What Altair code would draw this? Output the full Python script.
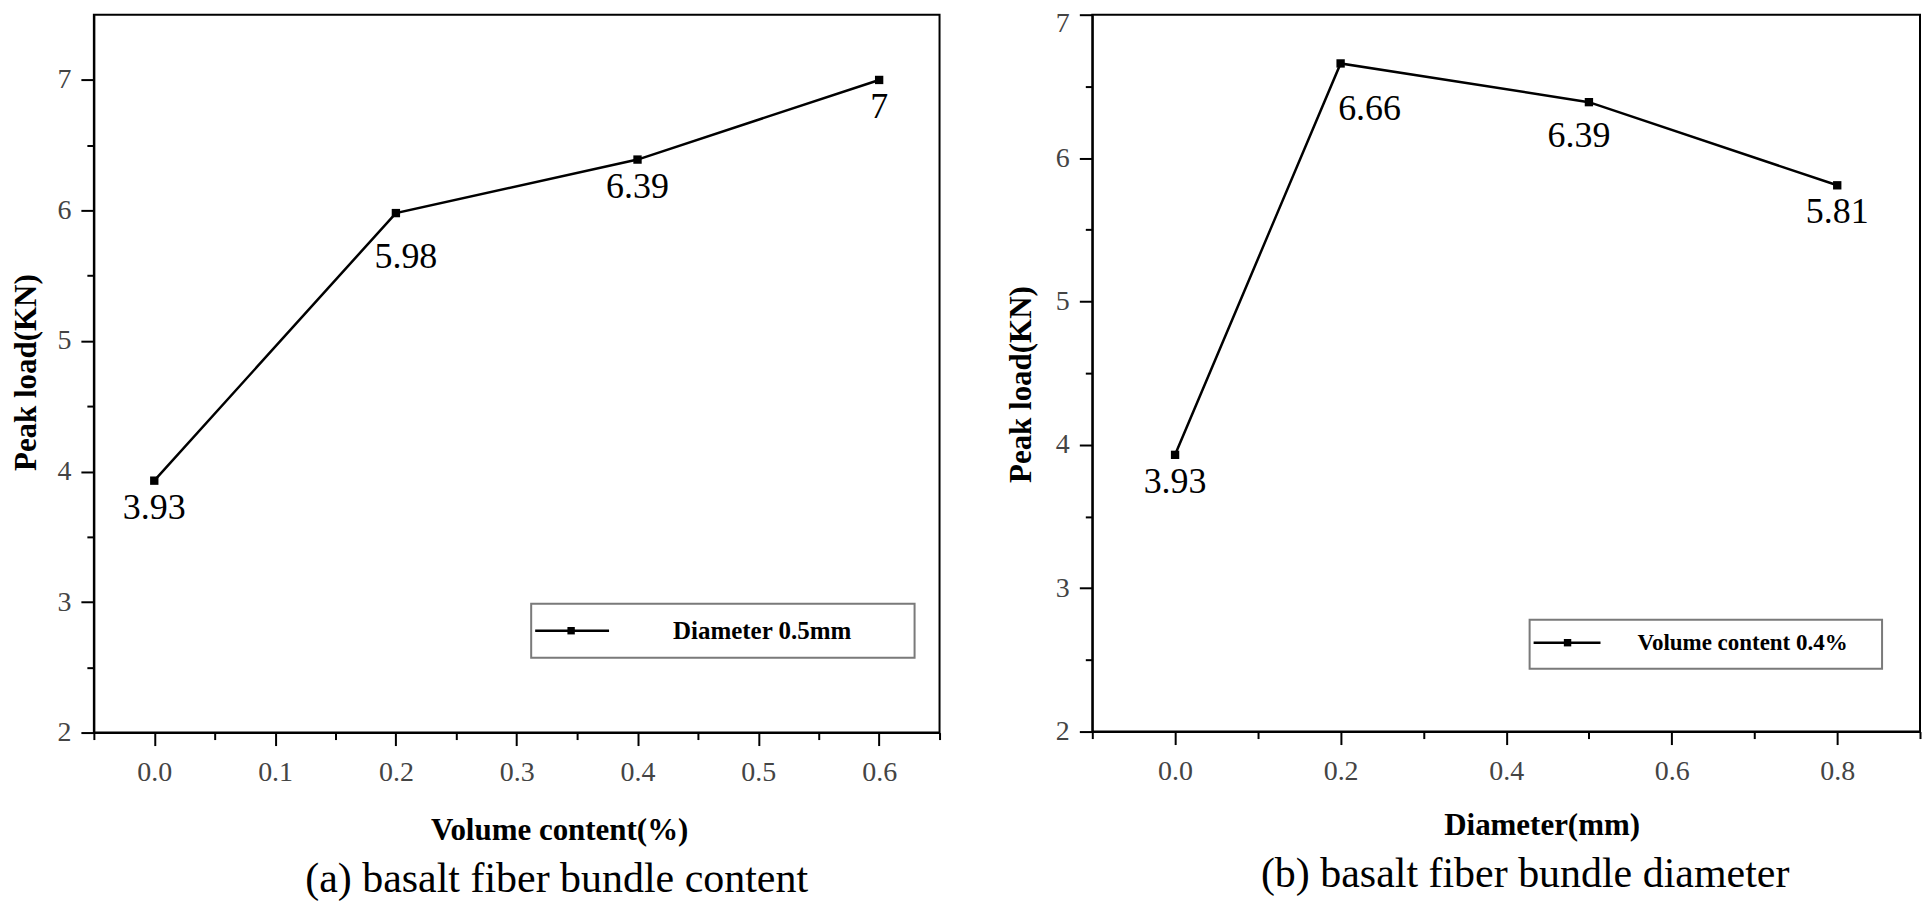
import altair as alt
import pandas as pd

# ---- data ----
x_a = [0.0, 0.2, 0.4, 0.6]
y_a = [3.93, 5.98, 6.39, 7.0]
lab_a = ["3.93", "5.98", "6.39", "7"]

x_b = [0.0, 0.2, 0.5, 0.8]
y_b = [3.93, 6.66, 6.39, 5.81]
lab_b = ["3.93", "6.66", "6.39", "5.81"]

xticks_a = [-0.05, 0.0, 0.05, 0.1, 0.15, 0.2, 0.25, 0.3, 0.35, 0.4, 0.45, 0.5, 0.55, 0.6, 0.65]
yticks_a = [2, 2.5, 3, 3.5, 4, 4.5, 5, 5.5, 6, 6.5, 7]
xticks_b = [-0.1, 0.0, 0.1, 0.2, 0.3, 0.4, 0.5, 0.6, 0.7, 0.8, 0.9]
yticks_b = [2, 2.5, 3, 3.5, 4, 4.5, 5, 5.5, 6, 6.5, 7]

legend_a = ["Diameter 0.5mm"]
legend_b = ["Volume content 0.4%"]
xtitle_a = "Volume content(%)"
xtitle_b = "Diameter(mm)"
ytitle = "Peak load(KN)"
cap_a = "(a) basalt fiber bundle content"
cap_b = "(b) basalt fiber bundle diameter"

SERIF = "Liberation Serif"
W_A, H_A = 847, 719
W_B, H_B = 829, 718


def panel(xs, ys, labs, xdom, ydom, xticks, yticks, xmul, xtitle, xtitle_x, xtitle_y,
          ytitle_x, ytitle_y, leg, legbox, special, caption, cap_dx, width, height):
    df = pd.DataFrame({"x": xs, "y": ys, "lab": labs})
    xmajor = f"abs(datum.value*{xmul} - round(datum.value*{xmul})) < 0.001"
    ymajor = "datum.value % 1 == 0"
    ytop = f"datum.value == {ydom[1]}"
    xaxis = alt.Axis(
        values=xticks,
        labelExpr=f"{xmajor} ? format(datum.value, '.1f') : ''",
        tickSize={"condition": {"test": xmajor, "value": 13}, "value": 7},
        title=xtitle, titleX=xtitle_x, titleY=xtitle_y, titleBaseline="middle",
        titleAlign="center", labelPadding=13,
    )
    yaxis = alt.Axis(
        values=yticks,
        labelExpr=f"{ymajor} ? format(datum.value, 'd') : ''",
        tickSize={"condition": {"test": ymajor, "value": 13}, "value": 7},
        labelBaseline={"condition": {"test": ytop, "value": "top"}, "value": "middle"},
        labelOffset={"condition": {"test": ytop, "value": -5}, "value": 0},
        title=ytitle, titleX=ytitle_x, titleY=ytitle_y, titleBaseline="middle",
        titleAlign="center", labelPadding=10,
    )
    base = alt.Chart(df).encode(
        x=alt.X("x:Q", scale=alt.Scale(domain=xdom, nice=False, zero=False), axis=xaxis),
        y=alt.Y("y:Q", scale=alt.Scale(domain=ydom, nice=False, zero=False), axis=yaxis),
    )
    line = base.mark_line(color="black", strokeWidth=2.5)
    pts = base.mark_point(shape="square", filled=True, size=70, color="black", opacity=1)
    cond_all = " || ".join(f"datum.x == {s[0]}" for s in special) if special else "false"
    txt = base.transform_filter(f"!({cond_all})").mark_text(
        font=SERIF, fontSize=36, color="black", baseline="middle", align="center", dy=27
    ).encode(text="lab:N")
    layers = [line, pts, txt]
    for sx, sdx, sdy in special:
        layers.append(
            base.transform_filter(f"datum.x == {sx}").mark_text(
                font=SERIF, fontSize=36, color="black", baseline="middle", align="center",
                dx=sdx, dy=sdy
            ).encode(text="lab:N")
        )
    bx1, bx2, by1, by2, lx1, lx2, ly, sqx, tx, tfs = legbox
    ldf = pd.DataFrame({"name": leg})
    lb = alt.Chart(ldf)
    layers.append(lb.mark_rect(fill="white", stroke="#7a7a7a", strokeWidth=2).encode(
        x=alt.value(bx1), x2=alt.value(bx2), y=alt.value(by1), y2=alt.value(by2)))
    layers.append(lb.mark_rule(color="black", strokeWidth=2.5).encode(
        x=alt.value(lx1), x2=alt.value(lx2), y=alt.value(ly)))
    layers.append(lb.mark_point(shape="square", filled=True, size=55, color="black", opacity=1).encode(
        x=alt.value(sqx), y=alt.value(ly)))
    layers.append(lb.mark_text(font=SERIF, fontSize=tfs, fontWeight="bold", align="left",
                               baseline="middle", color="black").encode(
        x=alt.value(tx), y=alt.value(ly), text="name:N"))
    return alt.layer(*layers).properties(
        width=width, height=height,
        title=alt.TitleParams(caption, orient="bottom", anchor="middle", dx=cap_dx, offset=14,
                              font=SERIF, fontSize=42, fontWeight="normal", color="black"),
    )


left = panel(x_a, y_a, lab_a, [-0.05, 0.65], [2, 7.5], xticks_a, yticks_a, 10,
             xtitle_a, 466, 98, -67, 358, legend_a,
             (438, 822, 590, 644, 442, 516, 617, 478, 580, 25),
             [(0.2, 10, 44)], cap_a, 40, W_A, H_A)
right = panel(x_b, y_b, lab_b, [-0.1, 0.9], [2, 7], xticks_b, yticks_b, 5,
              xtitle_b, 450, 94, -71, 370, legend_b,
              (438, 791, 606, 655, 442, 509, 629, 476, 546, 23),
              [(0.2, 29, 46), (0.5, -10, 34)], cap_b, 19, W_B, H_B)

chart = alt.hconcat(left, right, spacing=153, bounds="flush").properties(
    padding={"top": 0, "left": 2, "right": 0, "bottom": 0},
    background="white",
).configure_view(stroke="black", strokeWidth=2).configure_axis(
    grid=False, domainColor="black", domainWidth=2, tickColor="black", tickWidth=2,
    labelFont=SERIF, labelFontSize=28, labelColor="#444444",
    titleFont=SERIF, titleFontSize=31, titleFontWeight="bold", titleColor="black",
)

chart.save("out.html", embed_options={"renderer": "svg", "actions": False})
